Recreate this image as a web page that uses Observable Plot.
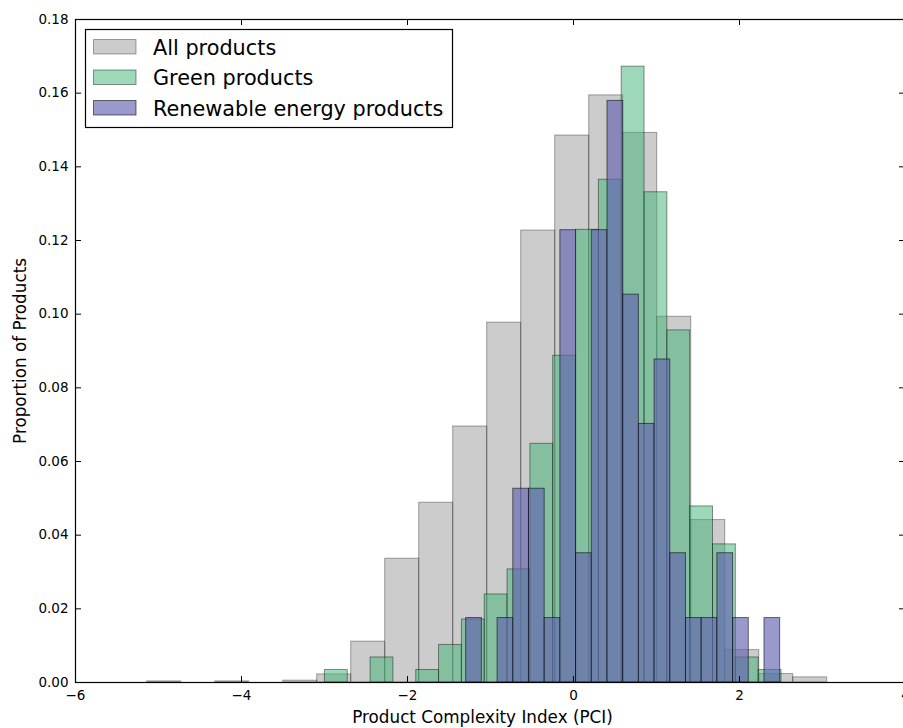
<!DOCTYPE html>
<html>
<head>
<meta charset="utf-8">
<script src="https://cdn.jsdelivr.net/npm/d3@7"></script>
<script src="https://cdn.jsdelivr.net/npm/@observablehq/plot@0.6"></script>
<style>
  html, body { margin: 0; padding: 0; background: #fff; overflow: hidden; }
  #wrap { width: 903px; height: 728px; }
</style>
</head>
<body>
<div id="wrap"></div>
<script>
// ---- Data (proportions per histogram bin, 20 bins each) ----
const seriesNames = ["All products", "Green products", "Renewable energy products"];

const allRange = [-5.136, 3.057];
const allProducts = [0.0003, 0, 0.0003, 0, 0.0005, 0.0022, 0.0111, 0.0336, 0.0488, 0.0695,
                     0.0977, 0.1227, 0.1485, 0.1594, 0.1492, 0.0993, 0.0441, 0.0088, 0.0023, 0.0014];

const greenRange = [-2.995, 2.506];
const greenProducts = [0.0034, 0, 0.0068, 0, 0.0034, 0.0102, 0.0171, 0.0239, 0.0307, 0.0648,
                       0.0887, 0.1229, 0.1365, 0.1672, 0.1331, 0.0956, 0.0478, 0.0375, 0.0068, 0.0034];

const renewRange = [-1.293, 2.490];
const renewProducts = [0.0175, 0, 0.0175, 0.0526, 0.0526, 0.0175, 0.1228, 0.0351, 0.1228, 0.1579,
                       0.1053, 0.0702, 0.0877, 0.0351, 0.0175, 0.0175, 0.0351, 0.0175, 0, 0.0175];

const xTicks = [-6, -4, -2, 0, 2, 4];
const yTicks = [0, 0.02, 0.04, 0.06, 0.08, 0.10, 0.12, 0.14, 0.16, 0.18];
const xLabel = "Product Complexity Index (PCI)";
const yLabel = "Proportion of Products";

// ---- Styles ----
const styles = [
  {fill: "#808080", alpha: 0.4},
  {fill: "#3cb371", alpha: 0.5},
  {fill: "#6262b0", alpha: 0.65}
];

function toBins(range, values) {
  const w = (range[1] - range[0]) / values.length;
  return values.map((v, i) => ({x1: range[0] + i * w, x2: range[0] + (i + 1) * w, y: v}))
               .filter(d => d.y > 0);
}
const allBins = toBins(allRange, allProducts);
const greenBins = toBins(greenRange, greenProducts);
const renewBins = toBins(renewRange, renewProducts);

const W = 903, H = 728, mL = 75, mR = -2, mT = 19, mB = 46;
const plotW = W - mL - mR, plotH = H - mT - mB;
const fmtX = d => (d < 0 ? "\u2212" + (-d) : String(d));

function hist(bins, s) {
  return Plot.rectY(bins, {x1: "x1", x2: "x2", y1: 0, y2: "y",
    fill: s.fill, fillOpacity: s.alpha, stroke: "black", strokeOpacity: s.alpha * 0.85, strokeWidth: 1});
}

const chart = Plot.plot({
  width: W, height: H,
  marginLeft: mL, marginRight: mR, marginTop: mT, marginBottom: mB,
  x: {domain: [-6, 4]},
  y: {domain: [0, 0.18]},
  style: {fontFamily: "DejaVu Sans", fontSize: "13.5px", color: "black", background: "white", overflow: "hidden"},
  marks: [
    hist(allBins, styles[0]),
    hist(greenBins, styles[1]),
    hist(renewBins, styles[2]),
    Plot.frame({stroke: "black", strokeWidth: 1.2}),
    Plot.ruleX(xTicks, {x: d => d, insetTop: plotH - 6, stroke: "black", strokeWidth: 1}),
    Plot.ruleX(xTicks, {x: d => d, insetBottom: plotH - 6, stroke: "black", strokeWidth: 1}),
    Plot.ruleY(yTicks, {y: d => d, insetRight: plotW - 6, stroke: "black", strokeWidth: 1}),
    Plot.ruleY(yTicks, {y: d => d, insetLeft: plotW - 6, stroke: "black", strokeWidth: 1}),
    Plot.axisX({ticks: xTicks, tickSize: 0, tickPadding: 8, tickFormat: fmtX, label: null}),
    Plot.axisY({ticks: yTicks, tickSize: 0, tickPadding: 7, tickFormat: d3.format(".2f"), label: null}),
    Plot.text([xLabel], {text: d => d, frameAnchor: "bottom", dx: -8, dy: 35.5, fontSize: 16.8,
      lineAnchor: "middle", textAnchor: "middle", fill: "black"}),
    Plot.text([yLabel], {text: d => d, frameAnchor: "left", rotate: -90, dx: -55, fontSize: 16.8,
      lineAnchor: "middle", textAnchor: "middle", fill: "black"})
  ]
});

// ---- Legend (drawn in the SVG) ----
const svg = d3.select(chart);
const lg = svg.append("g").attr("font-family", "DejaVu Sans").attr("font-size", 20.8)
  .attr("text-anchor", "start");
lg.append("rect").attr("x", 85.5).attr("y", 29.5).attr("width", 367).attr("height", 98)
  .attr("fill", "white").attr("stroke", "black").attr("stroke-width", 1.2);
seriesNames.forEach((name, i) => {
  const s = styles[i];
  lg.append("rect").attr("x", 93.5).attr("y", 39.5 + i * 30.5).attr("width", 42.5).attr("height", 14.5)
    .attr("fill", s.fill).attr("fill-opacity", s.alpha)
    .attr("stroke", "black").attr("stroke-opacity", s.alpha * 0.85);
  lg.append("text").attr("x", 153).attr("y", 54.5 + i * 30.5).attr("fill", "black")
    .attr("text-anchor", "start").text(name);
});

document.getElementById("wrap").appendChild(chart);
</script>
</body>
</html>
